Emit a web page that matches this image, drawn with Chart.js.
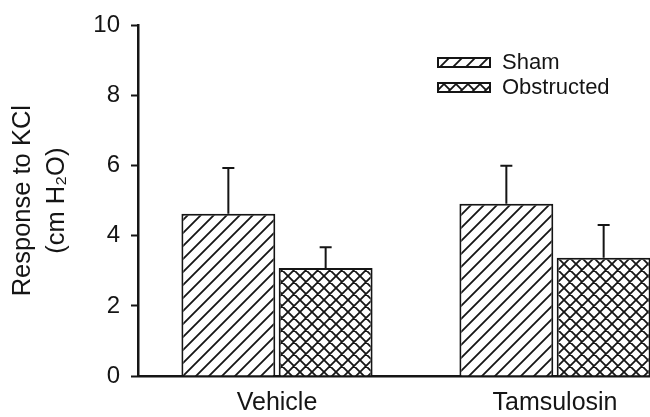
<!DOCTYPE html>
<html>
<head>
<meta charset="utf-8">
<title>Response to KCl</title>
<script src="https://cdn.jsdelivr.net/npm/chart.js@4/dist/chart.umd.min.js"></script>
<style>
  html, body { margin: 0; padding: 0; background: #fff; overflow: hidden; }
  #wrap { width: 650px; height: 417px; overflow: hidden; }
  canvas { display: block; }
</style>
</head>
<body>
<div id="wrap"><canvas id="kcl-chart" width="694" height="417"></canvas></div>
<script>
(function(){
  "use strict"

  // values
  var categories = ['Vehicle', 'Tamsulosin'];
  var seriesNames = ['Sham', 'Obstructed'];
  var shamMean = [4.63, 4.91];
  var shamSem = [1.30, 1.09];
  var obstructedMean = [3.08, 3.37];
  var obstructedSem = [0.59, 0.94];
  var yTicks = [0, 2, 4, 6, 8, 10];

  var FONT = '"Liberation Sans", Arial, Helvetica, sans-serif';
  var INK = '#151515';

  var canvas = document.getElementById('kcl-chart');
  var ctx = canvas.getContext('2d');

  // hatch fills: "/" for sham, crosshatch for obstructed
  function hatch(size, cross){
    var c = document.createElement('canvas');
    c.width = size; c.height = size;
    var g = c.getContext('2d');
    g.fillStyle = '#fff';
    g.fillRect(0, 0, size, size);
    g.strokeStyle = INK;
    g.lineWidth = 1.8;
    g.beginPath();
    g.moveTo(-1, size + 1); g.lineTo(size + 1, -1);
    g.moveTo(-2, 2); g.lineTo(2, -2);
    g.moveTo(size - 2, size + 2); g.lineTo(size + 2, size - 2);
    if (cross) {
      g.moveTo(-1, -1); g.lineTo(size + 1, size + 1);
      g.moveTo(size - 2, -2); g.lineTo(size + 2, 2);
      g.moveTo(-2, size - 2); g.lineTo(2, size + 2);
    }
    g.stroke();
    return ctx.createPattern(c, 'repeat');
  }

  var errorBars = {
    id: 'errorBars',
    afterDatasetsDraw: function(chart){
      var c = chart.ctx, y = chart.scales.y;
      chart.data.datasets.forEach(function(ds, i){
        chart.getDatasetMeta(i).data.forEach(function(bar, j){
          var top = y.getPixelForValue(ds.data[j] + ds.sem[j]);
          c.save();
          c.strokeStyle = INK;
          c.lineWidth = 2;
          c.beginPath();
          c.moveTo(bar.x, bar.y);
          c.lineTo(bar.x, top);
          c.moveTo(bar.x - 6, top);
          c.lineTo(bar.x + 6, top);
          c.stroke();
          c.restore();
        });
      });
    }
  };

  var legendBox = {
    id: 'legendBox',
    afterDraw: function(chart){
      var c = chart.ctx;
      chart.data.datasets.forEach(function(ds, i){
        var top = 58 + i * 25;
        c.save();
        c.fillStyle = ds.backgroundColor;
        c.fillRect(438, top, 52, 9);
        c.strokeStyle = INK;
        c.lineWidth = 2;
        c.strokeRect(438, top, 52, 9);
        c.fillStyle = INK;
        c.font = '22px ' + FONT;
        c.textBaseline = 'middle';
        c.fillText(ds.label, 502, top + 5);
        c.restore();
      });
    }
  };

  new Chart(ctx, {
    type: 'bar',
    data: {
      labels: categories,
      datasets: [{
        label: seriesNames[0],
        data: shamMean,
        sem: shamSem,
        backgroundColor: hatch(13, false),
        borderColor: INK,
        borderWidth: 2
      }, {
        label: seriesNames[1],
        data: obstructedMean,
        sem: obstructedSem,
        backgroundColor: hatch(12, true),
        borderColor: INK,
        borderWidth: 2
      }]
    },
    options: {
      responsive: false,
      animation: false,
      events: [],
      devicePixelRatio: 1,
      layout: { padding: { top: 16, left: 0, right: 0, bottom: 0 } },
      datasets: { bar: { categoryPercentage: 0.70, barPercentage: 0.965 } },
      scales: {
        x: {
          grid: { display: true, drawOnChartArea: false, drawTicks: false },
          border: { display: true, color: INK, width: 2.5 },
          ticks: { color: INK, padding: 12, font: { family: FONT, size: 25 } },
          afterFit: function(scale){ scale.height = 41; }
        },
        y: {
          min: 0,
          max: 10,
          afterBuildTicks: function(scale){
            scale.ticks = yTicks.map(function(v){ return { value: v }; });
          },
          grid: { drawOnChartArea: false, drawTicks: true, tickLength: 7, tickColor: INK, tickWidth: 2 },
          border: { display: true, color: INK, width: 2.5 },
          ticks: { color: INK, padding: 11, font: { family: FONT, size: 24 } },
          title: {
            display: true,
            text: ['Response to KCl', '(cm H\u2082O)'],
            color: INK,
            padding: { top: 6, bottom: 0 },
            font: { family: FONT, size: 25.5, lineHeight: 1.33 }
          },
          afterFit: function(scale){ scale.width = 138; }
        }
      },
      plugins: {
        legend: { display: false },
        tooltip: { enabled: false }
      }
    },
    plugins: [errorBars, legendBox]
  });
}).call(this);
</script>
</body>
</html>
